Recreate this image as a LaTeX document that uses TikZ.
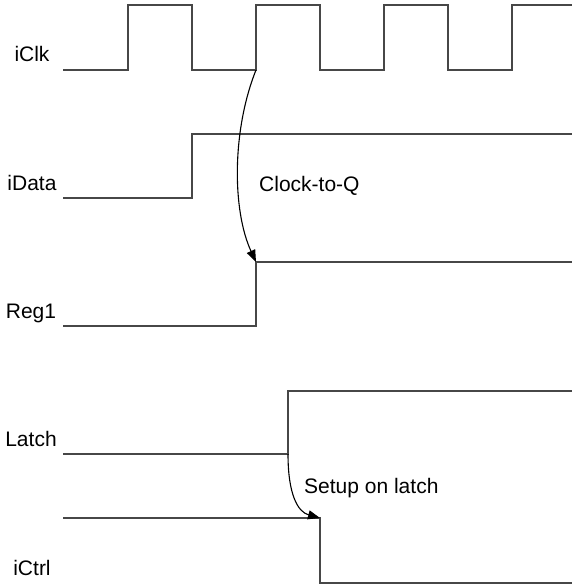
\documentclass[tikz,border=0pt]{standalone}
\usepackage{fontspec}
\setmainfont{Liberation Sans}
\usetikzlibrary{arrows.meta}
\begin{document}
\begin{tikzpicture}[x=1pt,y=-1pt,
  wave/.style={draw=black!72, line width=1.5pt, line join=miter},
  lbl/.style={font=\fontsize{21}{24}\selectfont, anchor=base, inner sep=0pt},
  note/.style={font=\fontsize{21}{24}\selectfont, anchor=base west, inner sep=0pt},
  conn/.style={draw=black, line width=1.1pt, -{Triangle[length=12pt,width=9pt]}}]
\useasboundingbox (0,0) rectangle (572,585);
% labels
\node[lbl] (lclk) at (32,62) {iClk};
\node[lbl] (ldata) at (32,190) {iData};
\node[lbl] (lreg) at (31,318) {Reg1};
\node[lbl] (llatch) at (31,446) {Latch};
\node[lbl] (lctrl) at (32,575) {iCtrl};
% waveforms
\draw[wave] (63,70) -- (128,70) -- (128,5) -- (192,5) -- (192,70) -- (256,70) -- (256,5) -- (320,5) -- (320,70) -- (384,70) -- (384,5) -- (448,5) -- (448,70) -- (512,70) -- (512,5) -- (572,5);
\draw[wave] (63,198) -- (192,198) -- (192,134) -- (572,134);
\draw[wave] (63,326) -- (256,326) -- (256,262) -- (572,262);
\draw[wave] (63,454) -- (288,454) -- (288,391) -- (572,391);
\draw[wave] (63,518) -- (320,518) -- (320,583) -- (572,583);
% connector endpoints
\coordinate (clkedge) at (256,70);
\coordinate (regedge) at (256,262);
\coordinate (latchedge) at (288,454);
\coordinate (ctrledge) at (320,518);
\draw[conn] (clkedge) .. controls (232,130) and (232,210) .. (regedge);
\draw[conn] (latchedge) .. controls (288,495) and (298,512) .. (ctrledge);
% notes
\node[note] (tcq) at (259,192) {Clock-to-Q};
\node[note] (tsu) at (304,493) {Setup on latch};
\end{tikzpicture}
\end{document}
